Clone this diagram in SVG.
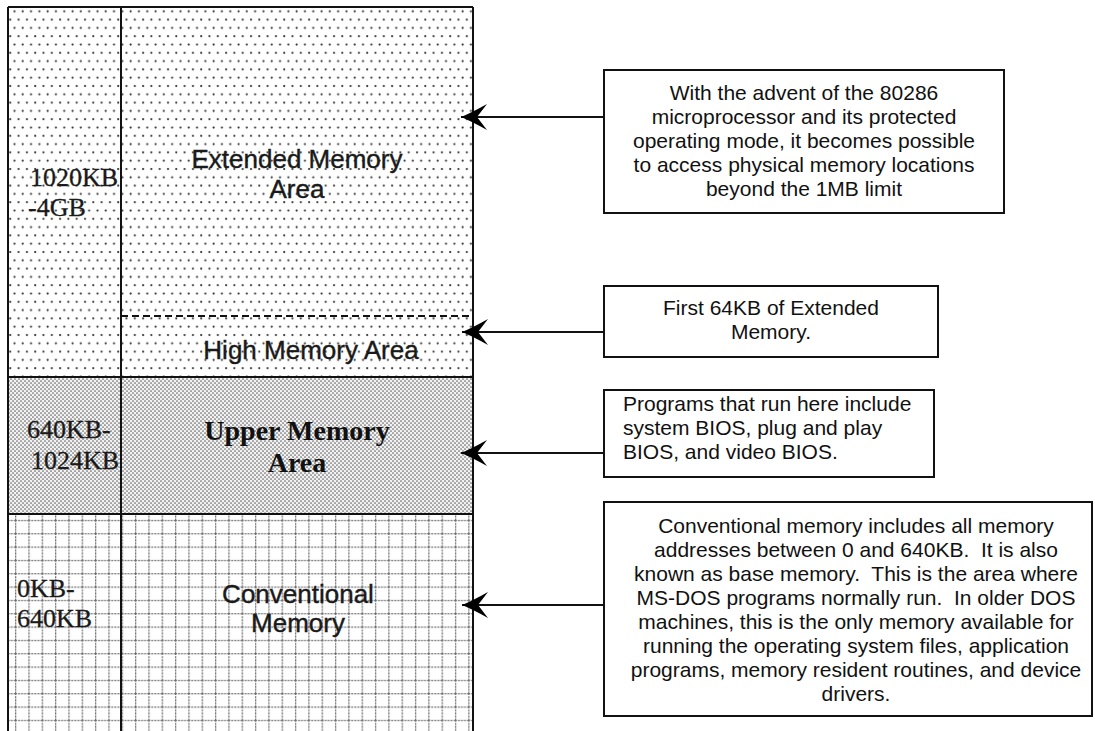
<svg xmlns="http://www.w3.org/2000/svg" width="1095" height="731" viewBox="0 0 1095 731">
  <style>
    .sep { stroke: #111; stroke-width: 2; }
    .dash { stroke: #111; stroke-width: 2; stroke-dasharray: 7 4; }
    .range { font-family: "Liberation Serif", "Times New Roman", serif; font-size: 26px; fill: #1a1a1a; stroke: #1a1a1a; stroke-width: 0.3; }
    .area { font-family: "Liberation Sans", Arial, sans-serif; font-size: 26px; fill: #1a1a1a; stroke: #1a1a1a; stroke-width: 0.4; text-anchor: middle; }
    .areaBold { font-family: "Liberation Serif", "Times New Roman", serif; font-size: 28px; font-weight: bold; fill: #111; text-anchor: middle; }
    .note { fill: #fff; stroke: #111; stroke-width: 2; }
    .noteText { font-family: "Liberation Sans", Arial, sans-serif; font-size: 21px; fill: #111; }
    .mid { text-anchor: middle; }
    .link { stroke: #111; stroke-width: 2; fill: none; marker-end: url(#head); }
  </style>
  <defs>
    <!-- staggered dot screen for extended memory -->
    <pattern id="dots" patternUnits="userSpaceOnUse" width="8.3" height="16.6">
      <rect width="8.3" height="16.6" fill="#fff"/>
      <circle cx="2" cy="3" r="1.1" fill="#333"/>
      <circle cx="6.15" cy="11.3" r="1.1" fill="#333"/>
    </pattern>
    <!-- fine halftone for upper memory -->
    <pattern id="halftone" patternUnits="userSpaceOnUse" width="4" height="4">
      <rect width="4" height="4" fill="#f2f2f2"/>
      <circle cx="1" cy="1" r="0.85" fill="#666"/>
      <circle cx="3" cy="3" r="0.85" fill="#666"/>
    </pattern>
    <!-- grid for conventional memory -->
    <pattern id="grid" patternUnits="userSpaceOnUse" x="1.7" y="0" width="13.33" height="13.33">
      <rect width="13.33" height="13.33" fill="#fff"/>
      <line x1="0.6" y1="0" x2="0.6" y2="13.33" stroke="#6e6e6e" stroke-width="1.3" stroke-dasharray="2 1"/>
      <line x1="0" y1="0.6" x2="13.33" y2="0.6" stroke="#6e6e6e" stroke-width="1.3" stroke-dasharray="2 1"/>
    </pattern>
    <marker id="head" markerUnits="userSpaceOnUse" markerWidth="30" markerHeight="30" viewBox="-28 -15 30 30" refX="0" refY="0" orient="auto" overflow="visible">
      <path d="M0,0 Q-10,-4 -26,-13 L-16,0 L-26,13 Q-10,4 0,0 Z" fill="#000"/>
    </marker>
  </defs>

  <rect width="1095" height="731" fill="#fff"/>

  <!-- memory map -->
  <g id="extended-memory">
    <rect x="8" y="7" width="465" height="370" fill="url(#dots)"/>
    <text class="range" x="30" y="186">1020KB</text>
    <text class="range" x="28" y="216">-4GB</text>
    <text class="area" x="297" y="168">Extended Memory</text>
    <text class="area" x="297" y="198">Area</text>
  </g>
  <g id="high-memory">
    <line class="dash" x1="121" y1="316" x2="473" y2="316"/>
    <text class="area" x="311" y="359">High Memory Area</text>
  </g>
  <g id="upper-memory">
    <rect x="8" y="377" width="465" height="137" fill="url(#halftone)"/>
    <text class="range" x="27" y="438">640KB-</text>
    <text class="range" x="31" y="469">1024KB</text>
    <text class="areaBold" x="297" y="440">Upper Memory</text>
    <text class="areaBold" x="297" y="472">Area</text>
  </g>
  <g id="conventional-memory">
    <rect x="8" y="514" width="465" height="217" fill="url(#grid)"/>
    <text class="range" x="17" y="597">0KB-</text>
    <text class="range" x="17" y="627">640KB</text>
    <text class="area" x="298" y="603">Conventional</text>
    <text class="area" x="298" y="632">Memory</text>
  </g>
  <g id="map-frame">
    <line class="sep" x1="8" y1="7" x2="8" y2="731"/>
    <line class="sep" x1="473" y1="7" x2="473" y2="731"/>
    <line class="sep" x1="121" y1="7" x2="121" y2="731"/>
    <line class="sep" x1="8" y1="7" x2="473" y2="7"/>
    <line class="sep" x1="8" y1="377" x2="473" y2="377"/>
    <line class="sep" x1="8" y1="514" x2="473" y2="514"/>
  </g>

  <!-- notes -->
  <g id="note-extended">
    <rect class="note" x="604" y="70" width="400" height="143"/>
    <text class="noteText mid" x="804" y="100">With the advent of the 80286</text>
    <text class="noteText mid" x="804" y="124">microprocessor and its protected</text>
    <text class="noteText mid" x="804" y="148">operating mode, it becomes possible</text>
    <text class="noteText mid" x="804" y="172">to access physical memory locations</text>
    <text class="noteText mid" x="804" y="196">beyond the 1MB limit</text>
  </g>
  <g id="note-high">
    <rect class="note" x="604" y="286" width="334" height="71"/>
    <text class="noteText mid" x="771" y="315">First 64KB of Extended</text>
    <text class="noteText mid" x="771" y="339">Memory.</text>
  </g>
  <g id="note-upper">
    <rect class="note" x="604" y="390" width="330" height="87"/>
    <text class="noteText" x="623" y="411">Programs that run here include</text>
    <text class="noteText" x="623" y="435">system BIOS, plug and play</text>
    <text class="noteText" x="623" y="459">BIOS, and video BIOS.</text>
  </g>
  <g id="note-conventional">
    <rect class="note" x="604" y="502" width="488" height="214"/>
    <text class="noteText mid" x="856" y="533">Conventional memory includes all memory</text>
    <text class="noteText mid" x="856" y="557" xml:space="preserve">addresses between 0 and 640KB.  It is also</text>
    <text class="noteText mid" x="856" y="581" xml:space="preserve">known as base memory.  This is the area where</text>
    <text class="noteText mid" x="856" y="605" xml:space="preserve">MS-DOS programs normally run.  In older DOS</text>
    <text class="noteText mid" x="856" y="629">machines, this is the only memory available for</text>
    <text class="noteText mid" x="856" y="653">running the operating system files, application</text>
    <text class="noteText mid" x="856" y="677">programs, memory resident routines, and device</text>
    <text class="noteText mid" x="856" y="701">drivers.</text>
  </g>

  <!-- connectors -->
  <g id="connectors">
    <line class="link" x1="604" y1="117" x2="461" y2="117"/>
    <line class="link" x1="604" y1="332" x2="462" y2="332"/>
    <line class="link" x1="604" y1="453" x2="461" y2="453"/>
    <line class="link" x1="604" y1="605" x2="462" y2="605"/>
  </g>
</svg>
